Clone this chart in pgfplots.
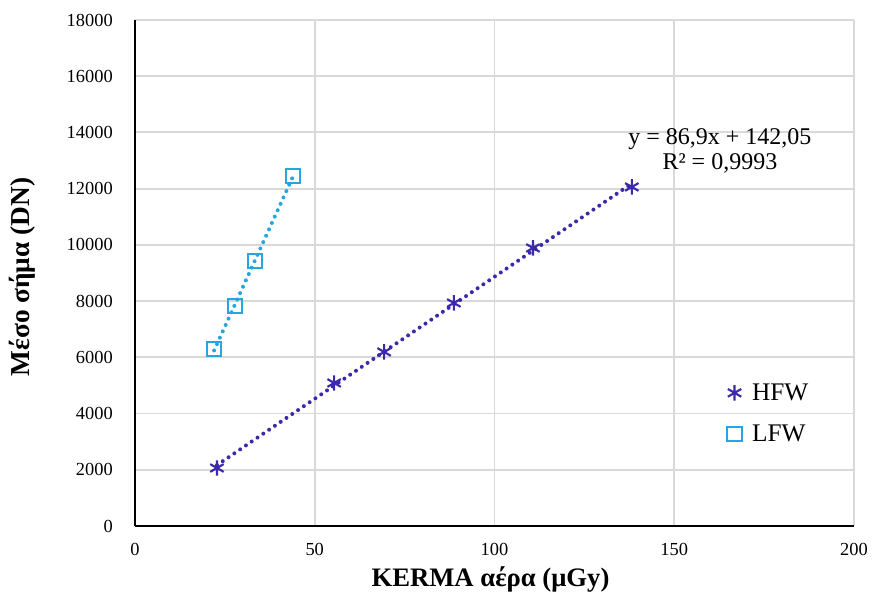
\documentclass[border=0pt]{standalone}
\usepackage{fontspec}
\setmainfont{Liberation Serif}
\usepackage{pgfplots}
\usepackage{pgfplotstable}
\pgfplotsset{compat=1.18}

\definecolor{hfw}{RGB}{58,42,170}
\definecolor{lfw}{RGB}{38,166,224}
\definecolor{gridc}{RGB}{217,217,217}

\pgfplotstableread{
x y
22.8 2063
55.4 5087
69.3 6190
88.7 7933
110.7 9890
138.2 12060
}\hfwdata

\pgfplotstableread{
x y
22.0 6297
27.8 7826
33.4 9427
43.9 12451
}\lfwdata

\begin{document}
\begin{tikzpicture}
\begin{axis}[name=ax,
  width=539.25pt,height=379.5pt,scale only axis,
  xmin=0,xmax=200,ymin=0,ymax=18000,
  xtick={0,50,...,200},ytick={0,2000,...,18000},
  axis x line*=bottom,axis y line*=left,
  axis line style={black,line width=1.1pt,-},
  major tick length=0pt,
  grid=major,
  grid style={gridc,line width=1.4pt},
  scaled y ticks=false,
  /pgf/number format/assume math mode=true,
  /pgf/number format/fixed,
  /pgf/number format/set thousands separator={},
  tick label style={font=\fontsize{13.8}{16}\selectfont,inner sep=0pt},
  xticklabel style={anchor=north,yshift=-13pt},
  yticklabel style={anchor=east,xshift=-16.5pt},
  clip=false,
  legend style={draw=none,fill=none,at={(axis cs:164.7,4002)},anchor=west,
    inner sep=0pt,font=\fontsize{19}{21}\selectfont,row sep=13pt,
    legend cell align=left},
  legend image code/.code={\draw[#1] plot coordinates {(5.6pt,0pt)};
    \path (16.5pt,0pt);},
]
\addplot[hfw,line width=3pt,line cap=round,dash pattern=on 0pt off 5.25pt,forget plot]
  table[x=x,y={create col/linear regression={y=y}}] {\hfwdata};
\addplot[lfw,line width=3pt,line cap=round,dash pattern=on 0pt off 5.25pt,forget plot]
  table[x=x,y={create col/linear regression={y=y}}] {\lfwdata};
\addplot[only marks,hfw,mark=asterisk,mark size=5.8pt,mark options={line width=1.6pt}]
  table[x=x,y=y] {\hfwdata};
\addlegendentry{HFW}
\addplot[only marks,lfw,mark=square,mark size=5.4pt,mark options={line width=1.4pt}]
  table[x=x,y=y] {\lfwdata};
\addlegendentry{LFW}
\node[align=center,font=\fontsize{18}{18.75}\selectfont,inner sep=0pt]
  at (axis cs:162.7,13340) {y = 86,9x + 142,05\\R² = 0,9993};
\end{axis}
\node[font=\fontsize{20}{22}\selectfont\bfseries,anchor=center]
  at ([xshift=-3pt,yshift=-39.75pt]ax.south) {KERMA αέρα (μGy)};
\node[font=\fontsize{20.5}{22}\selectfont\bfseries,anchor=center,rotate=90]
  at ([xshift=-84.75pt,yshift=-3pt]ax.west) {Μέσο σήμα (DN)};
\pgfresetboundingbox
\path[use as bounding box] ([xshift=-101.25pt,yshift=-56.25pt]ax.south west)
  rectangle ([xshift=13.5pt,yshift=15pt]ax.north east);
\end{tikzpicture}
\end{document}
